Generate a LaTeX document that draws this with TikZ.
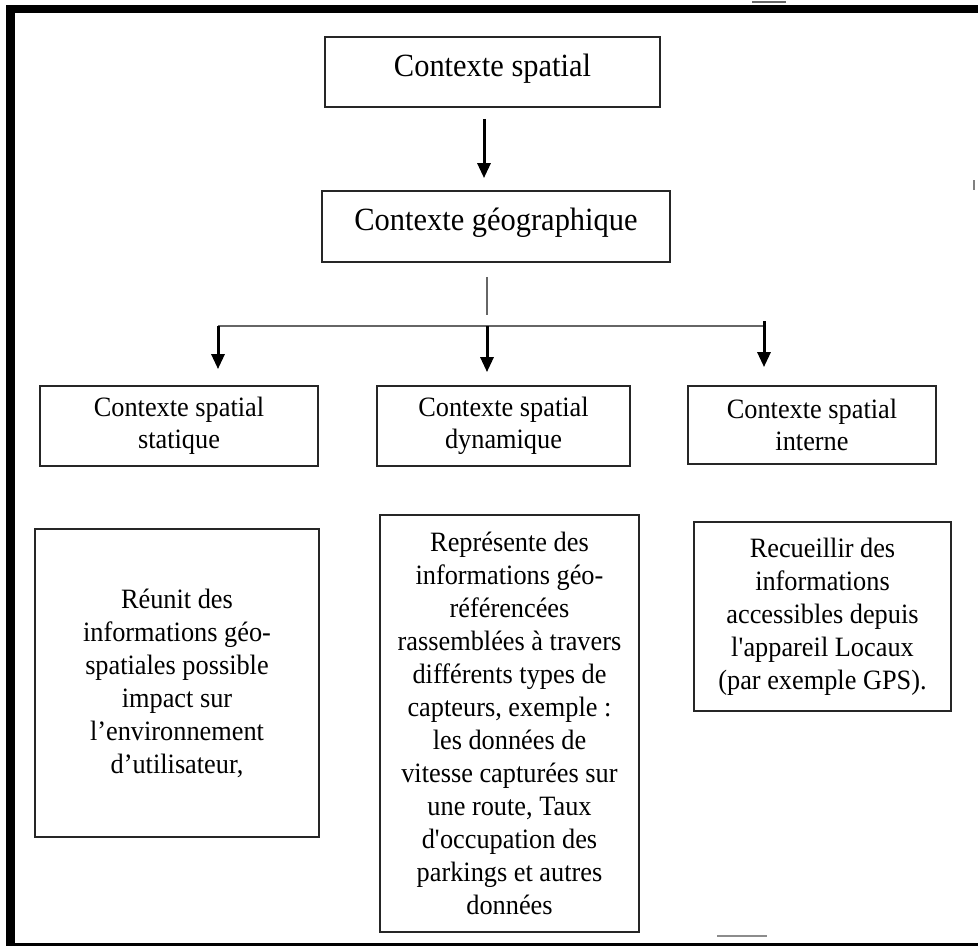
\documentclass[tikz,border=0pt]{standalone}
\usepackage{fontspec}
% slightly tall, narrow letterforms
\setmainfont{Liberation Serif}[FakeStretch=0.94]
\usetikzlibrary{arrows.meta}

\begin{document}
\begin{tikzpicture}[x=1pt,y=-1pt,
  box/.style={draw=black!85, line width=1.8pt, fill=white, inner sep=0pt, align=center},
  titlebox/.style={box, font=\fontsize{32.4}{36}\selectfont, text height=22pt, text depth=14pt},
  midbox/.style={box, font=\fontsize{28}{32.5}\selectfont},
  bodybox/.style={box, font=\fontsize{28}{33}\selectfont},
  arr/.style={line width=3pt, -{Triangle[length=15pt,width=13pt]}},
  feed/.style={line width=1.6pt, draw=black!60},
  speck/.style={line width=2pt, draw=black!45},
]
\useasboundingbox (0,0) rectangle (978,951);

% outer frame: heavy top and left edges, light bottom edge
\draw[line width=8pt] (6,9) -- (978,9);
\draw[line width=9pt] (10.5,5) -- (10.5,945.5);
\draw[line width=3pt] (6,944) -- (978,944);

% top of the hierarchy
\node[titlebox, minimum width=335pt, minimum height=70pt] (spatial) at (492.5,72) {Contexte spatial};
\node[titlebox, minimum width=348pt, minimum height=71pt] (geo) at (496,226.5) {Contexte géographique};

% second level
\node[midbox, minimum width=278pt, minimum height=80pt] (statique) at (179,426) {Contexte spatial\\statique};
\node[midbox, minimum width=253pt, minimum height=80pt] (dyn) at (503.5,426) {Contexte spatial\\dynamique};
\node[midbox, minimum width=248pt, minimum height=78pt] (interne) at (812,425) {Contexte spatial\\interne};

% descriptions
\node[bodybox, minimum width=284pt, minimum height=308pt] (reunit) at (177,683)
  {Réunit des\\informations géo-\\spatiales possible\\impact sur\\l’environnement\\d’utilisateur,};
\node[bodybox, minimum width=259pt, minimum height=417pt] (represente) at (509.5,723.5)
  {Représente des\\informations géo-\\référencées\\rassemblées à travers\\différents types de\\capteurs, exemple :\\les données de\\vitesse capturées sur\\une route, Taux\\d\textquotesingle occupation des\\parkings et autres\\données};
\node[bodybox, minimum width=257pt, minimum height=189pt] (recueillir) at (822.5,616.5)
  {Recueillir des\\informations\\accessibles depuis\\l\textquotesingle appareil Locaux\\(par exemple GPS).};

% connectors
\coordinate (ax) at (484,0);
\coordinate (hub) at (487,326);
\coordinate (bl) at (218,326);
\coordinate (br) at (764,326);

\draw[arr, shorten <=11pt, shorten >=12pt] (spatial.south -| ax) -- (geo.north -| ax);
\draw[feed, shorten <=14pt, shorten >=11pt] (geo.south -| hub) -- (hub);
\draw[feed] (bl) -- (br);
\draw[arr, shorten >=16pt] (bl) -- (statique.north -| bl);
\draw[arr, shorten >=13pt] (hub) -- (dyn.north -| hub);
\draw[arr, shorten <=-5pt, shorten >=18pt] (br) -- (interne.north -| br);

% stray marks along the edges
\draw[speck, draw=black!60] (752,2) -- (786,2);
\draw[speck] (717,936) -- (767,936);
\draw[line width=1.2pt, draw=black!50] (974,180) -- (974,190);
\end{tikzpicture}
\end{document}
